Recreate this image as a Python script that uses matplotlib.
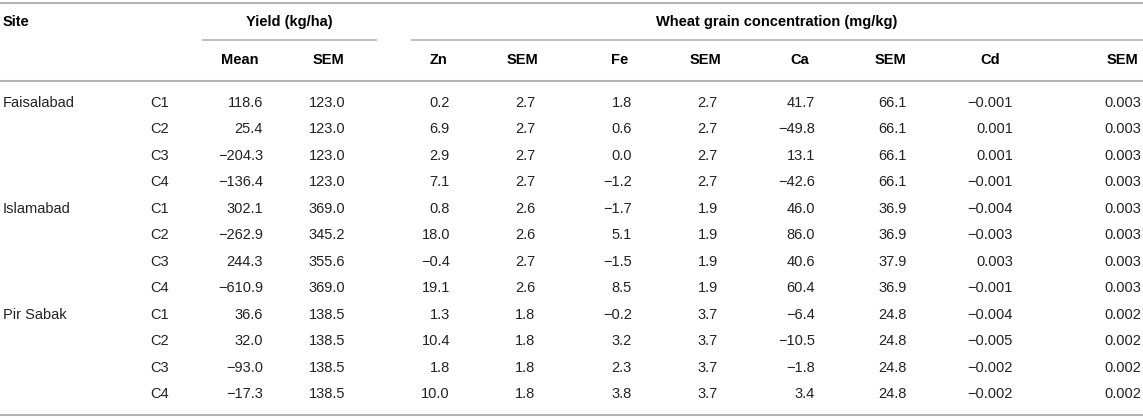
import matplotlib
matplotlib.use("Agg")
import matplotlib.pyplot as plt

# table data
sites = ["Faisalabad", "Islamabad", "Pir Sabak"]
treatments = ["C1", "C2", "C3", "C4"]

yield_mean = [118.6, 25.4, -204.3, -136.4, 302.1, -262.9, 244.3, -610.9, 36.6, 32.0, -93.0, -17.3]
yield_sem = [123.0, 123.0, 123.0, 123.0, 369.0, 345.2, 355.6, 369.0, 138.5, 138.5, 138.5, 138.5]
zn = [0.2, 6.9, 2.9, 7.1, 0.8, 18.0, -0.4, 19.1, 1.3, 10.4, 1.8, 10.0]
zn_sem = [2.7, 2.7, 2.7, 2.7, 2.6, 2.6, 2.7, 2.6, 1.8, 1.8, 1.8, 1.8]
fe = [1.8, 0.6, 0.0, -1.2, -1.7, 5.1, -1.5, 8.5, -0.2, 3.2, 2.3, 3.8]
fe_sem = [2.7, 2.7, 2.7, 2.7, 1.9, 1.9, 1.9, 1.9, 3.7, 3.7, 3.7, 3.7]
ca = [41.7, -49.8, 13.1, -42.6, 46.0, 86.0, 40.6, 60.4, -6.4, -10.5, -1.8, 3.4]
ca_sem = [66.1, 66.1, 66.1, 66.1, 36.9, 36.9, 37.9, 36.9, 24.8, 24.8, 24.8, 24.8]
cd = [-0.001, 0.001, 0.001, -0.001, -0.004, -0.003, 0.003, -0.001, -0.004, -0.005, -0.002, -0.002]
cd_sem = [0.003, 0.003, 0.003, 0.003, 0.003, 0.003, 0.003, 0.003, 0.002, 0.002, 0.002, 0.002]

col_names = ["Mean", "SEM", "Zn", "SEM", "Fe", "SEM", "Ca", "SEM", "Cd", "SEM"]
columns = [yield_mean, yield_sem, zn, zn_sem, fe, fe_sem, ca, ca_sem, cd, cd_sem]
decimals = [1, 1, 1, 1, 1, 1, 1, 1, 3, 3]

W, H = 1143, 418
FS = 10.5
LINE = "#b4b4b4"
DARK = "#222222"

plt.rcParams["font.family"] = ["Liberation Sans", "DejaVu Sans"]

fig = plt.figure(figsize=(W / 100, H / 100), dpi=100)
ax = fig.add_axes([0, 0, 1, 1])
ax.set_xlim(0, W)
ax.set_ylim(H, 0)
ax.axis("off")

# layout (pixels)
y_top, y_h1, y_sub, y_h2, y_mid = 3, 22, 40, 60, 81
row0, row_h = 103, 26.45
y_bot = 415
x_site, x_trt = 3, 150
num_right = [263, 345, 450, 535, 632, 718, 815, 907, 1013, 1141]
head_x = [240, 328, 438, 522, 620, 705, 800, 890, 990, 1122]

for y in (y_top, y_mid, y_bot):
    ax.hlines(y, 0, W, color=LINE, lw=1.5)
ax.hlines(y_sub, 202, 377, color=LINE, lw=1.2)
ax.hlines(y_sub, 411, W, color=LINE, lw=1.2)

bold = dict(fontsize=FS, fontweight="bold", color="black", va="center")
ax.text(x_site, y_h1, "Site", ha="left", **bold)
ax.text(289, y_h1, "Yield (kg/ha)", ha="center", **bold)
ax.text(777, y_h1, "Wheat grain concentration (mg/kg)", ha="center", **bold)
for name, hx in zip(col_names, head_x):
    ax.text(hx, y_h2, name, ha="center", **bold)


def fmt(v, d):
    s = f"{abs(v):.{d}f}"
    return ("\u2212" + s) if v < 0 else s


norm = dict(fontsize=FS, color=DARK, va="center")
for i in range(len(sites) * len(treatments)):
    y = row0 + i * row_h
    if i % 4 == 0:
        ax.text(x_site, y, sites[i // 4], ha="left", **norm)
    ax.text(x_trt, y, treatments[i % 4], ha="left", **norm)
    for col, d, xr in zip(columns, decimals, num_right):
        ax.text(xr, y, fmt(col[i], d), ha="right", **norm)

fig.savefig("out.png", dpi=100)
